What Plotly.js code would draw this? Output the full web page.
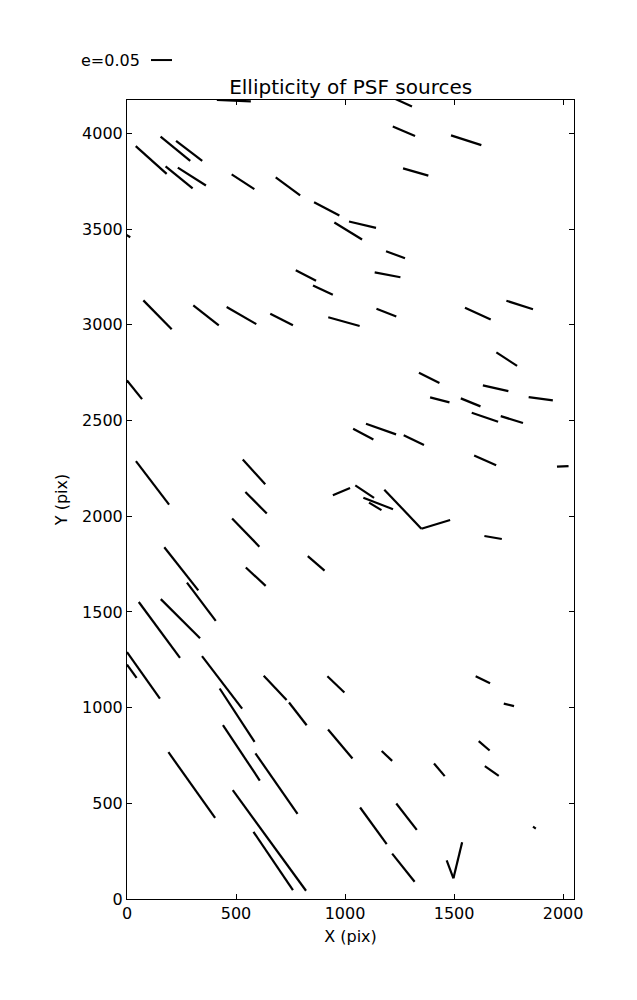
<!DOCTYPE html>
<html>
<head>
<meta charset="utf-8">
<script src="https://cdn.plot.ly/plotly-3.0.1.min.js"></script>
<style>html,body{margin:0;padding:0;background:#fff;}</style>
</head>
<body>
<div id="chart" style="width:637px;height:1000px;"></div>
<script>
// Whisker endpoints (pixel units of the CCD)
var x0 = [412, 1216, 40, 154, 225, 177, 233, 480, 682, 858, 951, 1018, 774, 853, 75, 304, 457, 657, 923, -15,
          1219, 1486, 1266, 1188, 1136, 1144, 1550, 1740, 1694,
          0, 41, 531, 543, 482, 171, 545, 829, 275, 54, 155, 1037, 944,
          1339, 1632, 1842, 1390, 1531, 1581, 1714, 1096, 1269, 1592, 1972, 1047, 1084, 1110, 1180, 1350, 1639,
          0, 0, 344, 425, 627, 743, 919, 922, 440, 589, 190, 485, 580,
          1599, 1728, 1613, 1641, 1168, 1408, 1069, 1235, 1216, 1466, 1497, 1862];
var y0 = [4175, 4188, 3934, 3984, 3961, 3828, 3822, 3786, 3771, 3641, 3535, 3540, 3285, 3206, 3128, 3102, 3093, 3058, 3040, 3478,
          4037, 3990, 3818, 3385, 3274, 3084, 3089, 3126, 2856,
          2710, 2288, 2296, 2127, 1988, 1838, 1732, 1792, 1653, 1552, 1567, 2457, 2110,
          2750, 2684, 2622, 2621, 2616, 2541, 2523, 2483, 2423, 2317, 2259, 2161, 2097, 2071, 2139, 1935, 1897,
          1290, 1225, 1269, 1100, 1166, 1027, 1164, 886, 909, 761, 767, 569, 351,
          1164, 1021, 825, 694, 773, 708, 478, 499, 237, 202, 108, 378];
var x1 = [568, 1307, 182, 290, 345, 301, 362, 584, 794, 974, 1078, 1142, 867, 944, 205, 421, 593, 761, 1067, 15,
          1321, 1625, 1382, 1275, 1254, 1235, 1668, 1862, 1789,
          69, 193, 634, 641, 607, 327, 636, 906, 407, 243, 335, 1130, 1023,
          1433, 1749, 1953, 1479, 1621, 1702, 1816, 1234, 1362, 1693, 2025, 1133, 1220, 1167, 1350, 1482, 1719,
          151, 44, 528, 585, 732, 824, 997, 1034, 609, 782, 404, 821, 761,
          1665, 1775, 1663, 1705, 1216, 1457, 1191, 1329, 1319, 1497, 1537, 1875];
var y1 = [4168, 4141, 3789, 3857, 3857, 3713, 3728, 3709, 3677, 3571, 3446, 3507, 3230, 3157, 2977, 2997, 3004, 2998, 2994, 3458,
          3987, 3939, 3780, 3348, 3249, 3044, 3028, 3082, 2786,
          2612, 2061, 2167, 2014, 1841, 1613, 1636, 1716, 1453, 1260, 1362, 2401, 2148,
          2696, 2654, 2605, 2595, 2574, 2494, 2487, 2428, 2372, 2266, 2262, 2096, 2037, 2032, 1935, 1980, 1881,
          1047, 1155, 995, 821, 1040, 908, 1079, 734, 619, 445, 424, 43, 46,
          1127, 1008, 776, 643, 722, 642, 287, 361, 90, 108, 296, 368];

var xTicks = [0, 500, 1000, 1500, 2000];
var yTicks = [0, 500, 1000, 1500, 2000, 2500, 3000, 3500, 4000];
var keyLabel = "e=0.05";

var xs = [], ys = [];
for (var i = 0; i < x0.length; i++) {
  xs.push(x0[i], x1[i], null);
  ys.push(y0[i], y1[i], null);
}

var font = {family: "DejaVu Sans, sans-serif", color: "#000"};
var axisBase = {
  showgrid: false, zeroline: false, showline: true, mirror: "ticks",
  linecolor: "#000", linewidth: 1, ticks: "inside", ticklen: 5, tickcolor: "#000",
  tickfont: {family: font.family, size: 16, color: "#000"}
};

var layout = {
  width: 637, height: 1000,
  margin: {l: 127, r: 63, t: 100, b: 101},
  paper_bgcolor: "#fff", plot_bgcolor: "#fff",
  showlegend: false,
  title: {text: "Ellipticity of PSF sources", font: {family: font.family, size: 20, color: "#000"},
          x: 0.5505, xanchor: "center", y: 0.913, yanchor: "middle", yref: "container"},
  xaxis: Object.assign({}, axisBase, {
    range: [0, 2050], tickvals: xTicks, ticktext: xTicks.map(String),
    title: {text: "X (pix)", font: {family: font.family, size: 16, color: "#000"}, standoff: 8}
  }),
  yaxis: Object.assign({}, axisBase, {
    range: [0, 4175], tickvals: yTicks, ticktext: yTicks.map(String),
    title: {text: "Y (pix)", font: {family: font.family, size: 16, color: "#000"}, standoff: 10}
  }),
  annotations: [{
    text: keyLabel, xref: "paper", yref: "paper", x: -0.108, y: 1.050,
    xanchor: "left", yanchor: "middle", showarrow: false,
    font: {family: font.family, size: 16, color: "#000"}
  }],
  shapes: [{
    type: "line", xref: "paper", yref: "paper", x0: 0.0537, x1: 0.1007, y0: 1.050, y1: 1.050,
    line: {color: "#000", width: 2}
  }]
};

Plotly.newPlot("chart", [{
  type: "scatter", mode: "lines", x: xs, y: ys, connectgaps: false,
  line: {color: "#000", width: 2.2}, hoverinfo: "skip"
}], layout, {displayModeBar: false, staticPlot: true});
</script>
</body>
</html>
